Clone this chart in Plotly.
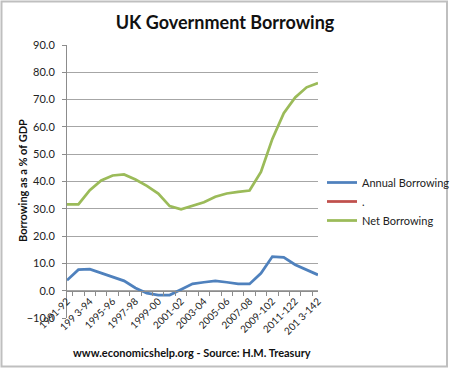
import plotly.graph_objects as go

categories = ["1991-92","1992-93","1993-94","1994-95","1995-96","1996-97","1997-98","1998-99",
              "1999-00","2000-01","2001-02","2002-03","2003-04","2004-05","2005-06","2006-07",
              "2007-08","2008-09","2009-10","2010-11","2011-12","2012-13","2013-14"]
tick_labels = ["1991-92","","199 3-94","","1995-96","","1997-98","","1999-00","","2001-02","",
               "2003-04","","2005-06","","2007-08","","2009-102","","2011-122","","201 3-142"]
annual_borrowing = [3.8, 7.7, 7.9, 6.4, 5.0, 3.6, 1.0, -0.9, -1.6, -1.6, 0.4, 2.5, 3.1, 3.6,
                    3.1, 2.5, 2.5, 6.4, 12.5, 12.2, 9.5, 7.6, 5.8]
dot_series = [None] * len(categories)
net_borrowing = [31.6, 31.6, 36.8, 40.4, 42.2, 42.6, 40.7, 38.4, 35.6, 31.0, 29.8, 31.1, 32.4,
                 34.4, 35.6, 36.2, 36.7, 43.5, 55.6, 65.0, 70.8, 74.5, 76.1]
y_ticks = [-10, 0, 10, 20, 30, 40, 50, 60, 70, 80, 90]

FONT = "Lato"
L, R, T, B = 67, 132, 45, 53
W, H = 450, 371
pw, ph = W - L - R, H - T - B
GRID = "#A6A6A6"
AXIS = "#8C8C8C"

def px_x(x):
    return (x - L) / pw

def px_y(y):
    return (H - B - y) / ph

fig = go.Figure()
fig.add_trace(go.Scatter(x=categories, y=annual_borrowing, mode="lines", name="Annual Borrowing",
                         line=dict(color="#4F81BD", width=2.75)))
fig.add_trace(go.Scatter(x=categories, y=dot_series, mode="lines", name=".",
                         line=dict(color="#C0504D", width=2.75)))
fig.add_trace(go.Scatter(x=categories, y=net_borrowing, mode="lines", name="Net Borrowing",
                         line=dict(color="#9BBB59", width=2.75)))

fig.update_layout(
    width=W, height=H,
    margin=dict(l=L, r=R, t=T, b=B, autoexpand=False),
    paper_bgcolor="white", plot_bgcolor="white",
    font=dict(family=FONT, color="#222222", size=11),
    showlegend=True,
    legend=dict(xref="container", yref="container",
                x=322 / W, y=1 - 168 / H, xanchor="left", yanchor="top",
                font=dict(size=11, family=FONT, color="#222222"),
                itemwidth=30, tracegroupgap=0, bgcolor="rgba(0,0,0,0)"),
    xaxis=dict(type="category", categoryorder="array", categoryarray=categories,
               tickvals=categories, ticktext=tick_labels, tickangle=-45,
               tickson="boundaries", ticks="outside", ticklen=4, tickcolor=AXIS, tickwidth=1,
               showline=True, linecolor=AXIS, linewidth=1,
               showgrid=False, anchor="free", position=0.1,
               tickfont=dict(size=10, family=FONT, color="#222222")),
    yaxis=dict(range=[-10, 90], tickvals=y_ticks, tickformat=".1f",
               showgrid=True, gridcolor=GRID, gridwidth=1, zeroline=False,
               showline=True, linecolor=AXIS, linewidth=1,
               ticks="outside", ticklen=4, tickcolor=AXIS, tickwidth=1, ticklabelstandoff=5,
               tickfont=dict(size=11, family=FONT, color="#222222")),
    title=dict(text="<b>UK Government Borrowing</b>", x=0.5, xanchor="center",
               y=1 - 23 / H, yanchor="middle",
               font=dict(size=18, family=FONT, color="#111111")),
)

fig.add_annotation(text="<b>Borrowing as a % of GDP</b>", textangle=-90,
                   xref="paper", yref="paper", x=px_x(22), y=px_y(181),
                   xanchor="center", yanchor="middle", showarrow=False,
                   font=dict(size=11, family=FONT, color="#111111"))
fig.add_annotation(text="<b>www.economicshelp.org - Source: H.M. Treasury</b>",
                   xref="paper", yref="paper", x=px_x(192), y=px_y(352),
                   xanchor="center", yanchor="middle", showarrow=False,
                   font=dict(size=11, family=FONT, color="#111111"))
fig.add_shape(type="rect", xref="paper", yref="paper",
              x0=px_x(1.5), x1=px_x(447), y0=px_y(366.5), y1=px_y(1.5),
              line=dict(color="#BFBFBF", width=2), layer="above")

fig.write_html("out.html", config={"displayModeBar": False},
               post_script="document.body.style.margin='0';document.body.style.padding='0';")
